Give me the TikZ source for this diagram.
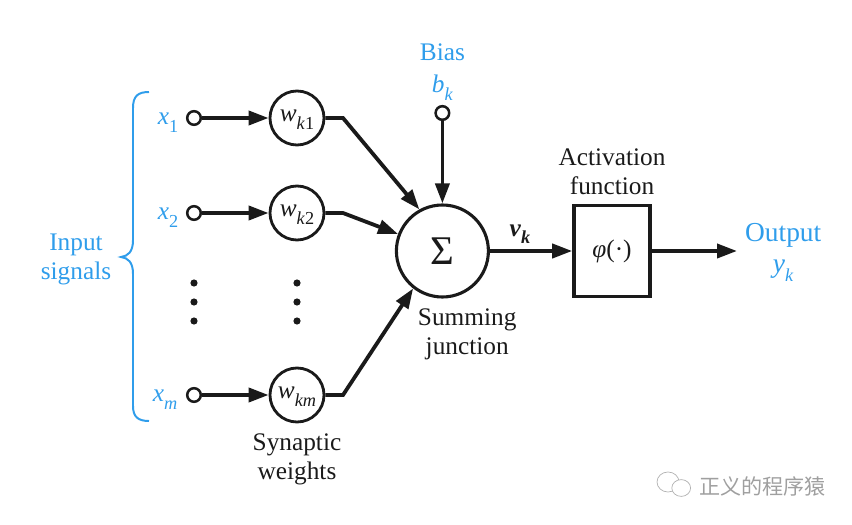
\documentclass[tikz,border=0pt]{standalone}
\usepackage{fontspec}
\setmainfont{Liberation Serif}
\newfontfamily\cjkfont{Noto Sans CJK SC}
\usetikzlibrary{
    positioning,
    arrows.meta,
    shapes.geometric,
}
\definecolor{signalblue}{HTML}{2F9DEB}
\definecolor{inkblack}{HTML}{1A1A1A}
\newcommand{\varsub}[2]{\textit{#1}\raisebox{-0.3em}{\fontsize{13}{13}\selectfont\textit{#2}}}

\begin{document}
\begin{tikzpicture}[
    every node/.style={font=\fontsize{18}{20.6}\selectfont, align=center, text=inkblack},
    weight/.style={circle, draw=inkblack, line width=2pt, minimum size=1.35cm, inner sep=0pt, text height=5.6pt, text depth=0pt},
    port/.style={circle, draw=inkblack, line width=1.8pt, minimum size=0.34cm, inner sep=0pt},
    vdot/.style={circle, fill=inkblack, minimum size=0.18cm, inner sep=0pt},
    blue label/.style={text=signalblue},
    arrow/.style={-{Triangle[length=5mm, width=3.5mm]}, line width=2.7pt, draw=inkblack},
    bubble/.style={ellipse, draw=gray!60, line width=0.5pt, fill=white, inner sep=0pt},
]
    \useasboundingbox (0, 0) rectangle (21.3, 13.1);

    % Input ports and weights
    \node[port] (x1) at (4.85, 10.15) {};
    \node[port] (x2) at (4.85, 7.775) {};
    \node[port] (xm) at (4.85, 3.225) {};
    \node[weight] (wk1) at (7.425, 10.15) {\varsub{w}{k}\raisebox{-0.3em}{\fontsize{13}{13}\selectfont 1}};
    \node[weight] (wk2) at (7.425, 7.775) {\varsub{w}{k}\raisebox{-0.3em}{\fontsize{13}{13}\selectfont 2}};
    \node[weight] (wkm) at (7.425, 3.225) {\varsub{w}{km}};

    % Input labels
    \node[blue label] (lx1) at (4.2, 10.03) {\textit{x}\raisebox{-0.3em}{\fontsize{13}{13}\selectfont 1}};
    \node[blue label] (lx2) at (4.2, 7.655) {\textit{x}\raisebox{-0.3em}{\fontsize{13}{13}\selectfont 2}};
    \node[blue label] (lxm) at (4.13, 3.105) {\varsub{x}{m}};
    \node[blue label] (input) at (1.9, 6.625) {Input\\signals};

    % Brace
    \draw[signalblue, line width=1.4pt] (3.725, 10.8) .. controls (3.45, 10.8) and (3.325, 10.7) .. (3.325, 10.4)
        -- (3.325, 7.1) .. controls (3.325, 6.8) and (3.2, 6.7) .. (3.025, 6.675)
        .. controls (3.2, 6.65) and (3.325, 6.55) .. (3.325, 6.25)
        -- (3.325, 2.95) .. controls (3.325, 2.68) and (3.45, 2.575) .. (3.725, 2.575);

    % Dots between the rows
    \foreach \i/\py in {1/6.025, 2/5.55, 3/5.075} {
        \node[vdot] (dl\i) at (4.85, \py) {};
        \node[vdot] (dr\i) at (7.425, \py) {};
    }

    % Summing junction and bias
    \node[circle, draw=inkblack, line width=2.2pt, minimum size=2.3cm, inner sep=0pt, font=\fontsize{29}{29}\selectfont] (sum) at (11.06, 6.825) {Σ};
    \node[port] (bias) at (11.06, 10.275) {};
    \node[blue label] (biaslabel) at (11.06, 11.3) {Bias\\[2.1pt]\varsub{b}{k}};
    \node (sumlabel) at (11.68, 4.75) {Summing\\junction};

    % Activation function
    \node[rectangle, draw=inkblack, line width=2.5pt, minimum width=1.9cm, minimum height=2.28cm] (phi) at (15.3, 6.825) {\textit{φ}(·)};
    \node (philabel) at (15.3, 8.8) {Activation\\function};
    \coordinate (out) at (18.425, 6.825);
    \node[blue label, font=\fontsize{19.5}{20.6}\selectfont] (outlabel) at (19.58, 6.8) {Output\\[2.1pt]\varsub{y}{k}};
    \node (vk) at (13, 7.25) {\textbf{\varsub{v}{k}}};
    \node (synlabel) at (7.425, 1.625) {Synaptic\\weights};

    % Bends
    \coordinate (b1) at (8.575, 10.15);
    \coordinate (b2) at (8.575, 7.775);
    \coordinate (bm) at (8.575, 3.225);

    % Arrows
    \draw[arrow] (x1) -- (wk1);
    \draw[arrow] (x2) -- (wk2);
    \draw[arrow] (xm) -- (wkm);
    \draw[arrow] (wk1) -- (b1) -- (sum.119);
    \draw[arrow] (wk2) -- (b2) -- (sum.159);
    \draw[arrow] (wkm) -- (bm) -- (sum.232);
    \draw[arrow] (bias) -- (sum);
    \draw[arrow] (sum) -- (phi);
    \draw[arrow] (phi) -- (out);

    % Watermark
    \node[bubble, minimum width=0.55cm, minimum height=0.5cm] (bub1) at (16.7, 1.05) {};
    \node[bubble, minimum width=0.47cm, minimum height=0.42cm] (bub2) at (17.03, 0.9) {};
    \node[font=\cjkfont\fontsize{15}{15}\selectfont, text=gray!75] (mark) at (19.06, 0.93) {正义的程序猿};
\end{tikzpicture}
\end{document}
